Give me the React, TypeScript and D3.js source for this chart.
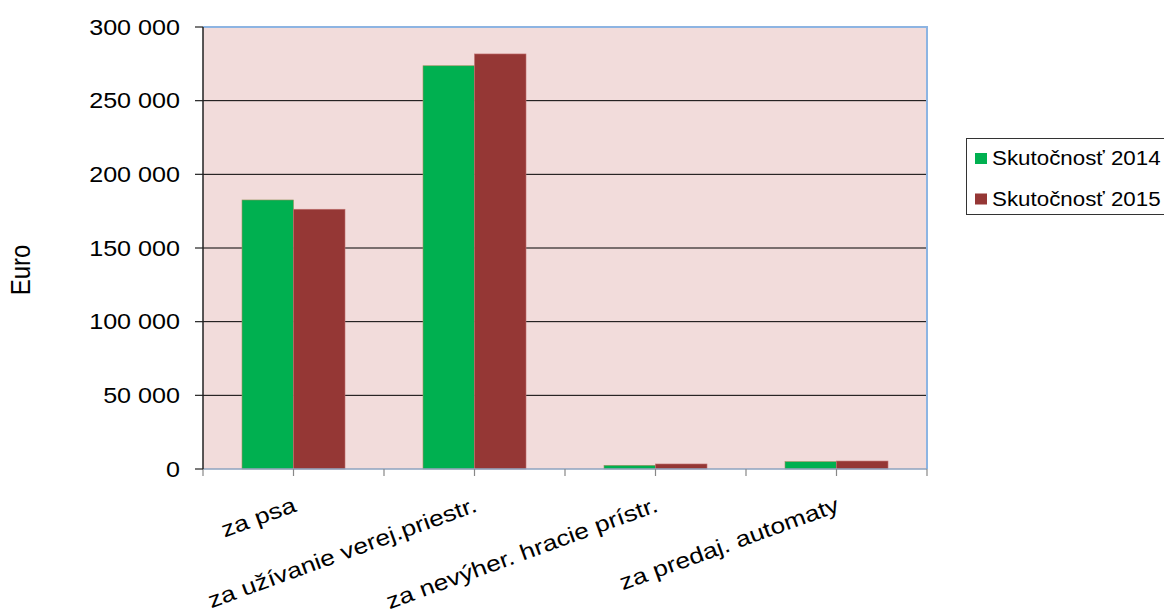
import React, { useEffect, useRef } from "react";
import * as d3 from "d3";

const categories = ["za psa", "za užívanie verej.priestr.", "za nevýher. hracie prístr.", "za predaj. automaty"];
const series2014 = [182600, 273700, 2500, 5000];
const series2015 = [176300, 281700, 3400, 5400];
const seriesNames = ["Skutočnosť 2014", "Skutočnosť 2015"];
const seriesColors = ["#00B050", "#953735"];
const yTicks = [0, 50000, 100000, 150000, 200000, 250000, 300000];

const W = 1164, H = 614;
const M = { left: 203, top: 27, right: 927, bottom: 469 };
const FONT = "'Liberation Sans', Arial, sans-serif";
const SX = 1.17;

export default function App() {
  const ref = useRef<SVGSVGElement>(null);
  useEffect(() => {
    const svg = d3.select(ref.current);
    svg.selectAll("*").remove();
    const x = d3.scaleBand().domain(categories).range([M.left, M.right]).paddingInner(0).paddingOuter(0);
    const y = d3.scaleLinear().domain([0, 300000]).range([M.bottom, M.top]);
    const fmt = (v: number) => d3.format(",")(v).replace(/,/g, " ");

    svg.append("rect").attr("x", M.left).attr("y", M.top).attr("width", M.right - M.left).attr("height", M.bottom - M.top).attr("fill", "#F2DCDB");

    // gridlines
    svg.append("g").selectAll("line").data(yTicks.filter(t => t > 0 && t < 300000)).join("line")
      .attr("x1", M.left).attr("x2", M.right).attr("y1", d => y(d)).attr("y2", d => y(d))
      .attr("stroke", "#000").attr("stroke-width", 1);

    // border top and right
    svg.append("path").attr("d", `M${M.left},${M.top}H${M.right}V${M.bottom}`).attr("fill", "none").attr("stroke", "#8DB4E2").attr("stroke-width", 2);

    // bars
    const bw = 51.5;
    const groups = [series2014, series2015];
    groups.forEach((ser, si) => {
      svg.append("g").selectAll("rect").data(ser).join("rect")
        .attr("x", (d, i) => x(categories[i])! + x.bandwidth() / 2 - bw + si * bw)
        .attr("y", d => y(d))
        .attr("width", bw)
        .attr("height", d => y(0) - y(d))
        .attr("fill", seriesColors[si])
        .attr("stroke", si === 0 ? "#A09060" : "#C07070")
        .attr("stroke-width", 0.6);
    });

    // x axis
    svg.append("line").attr("x1", M.left).attr("x2", M.right).attr("y1", M.bottom).attr("y2", M.bottom).attr("stroke", "#8EA3BF").attr("stroke-width", 1.5);
    const xt: number[] = [];
    for (let i = 0; i <= categories.length * 2; i++) xt.push(M.left + (i * x.bandwidth()) / 2);
    svg.append("g").selectAll("line").data(xt).join("line")
      .attr("x1", d => d).attr("x2", d => d).attr("y1", M.bottom).attr("y2", M.bottom + 7)
      .attr("stroke", "#888").attr("stroke-width", 1.2);

    // y axis
    svg.append("line").attr("x1", M.left).attr("x2", M.left).attr("y1", M.top).attr("y2", M.bottom).attr("stroke", "#222").attr("stroke-width", 1.5);
    svg.append("g").selectAll("line").data(yTicks).join("line")
      .attr("x1", M.left - 8).attr("x2", M.left).attr("y1", d => y(d)).attr("y2", d => y(d))
      .attr("stroke", "#222").attr("stroke-width", 1.2);
    svg.append("g").selectAll("text").data(yTicks).join("text")
      .attr("transform", d => `translate(180,${y(d)}) scale(${SX},1)`)
      .attr("dy", "0.36em").attr("text-anchor", "end")
      .attr("font-family", FONT).attr("font-size", 21.5).attr("fill", "#000").text(d => fmt(d));

    // x labels
    svg.append("g").selectAll("text").data(categories).join("text")
      .attr("transform", d => `translate(${x(d)! + x.bandwidth() / 2 + 4},${M.bottom + 42}) rotate(-20) scale(1.2,1)`)
      .attr("text-anchor", "end").attr("font-family", FONT).attr("font-size", 22).attr("fill", "#000")
      .text(d => d);

    // y title
    svg.append("text").attr("transform", `translate(30,270) scale(${SX},1) rotate(-90)`)
      .attr("text-anchor", "middle").attr("font-family", FONT).attr("font-size", 24).text("Euro");

    // legend
    const lg = svg.append("g");
    lg.append("rect").attr("x", 966.5).attr("y", 138.5).attr("width", 205).attr("height", 76).attr("fill", "#fff").attr("stroke", "#333").attr("stroke-width", 1);
    seriesNames.forEach((n, i) => {
      const yy = 158 + i * 40.5;
      lg.append("rect").attr("x", 975).attr("y", yy - 5).attr("width", 12).attr("height", 11).attr("fill", seriesColors[i]);
      lg.append("text").attr("transform", `translate(992,${yy}) scale(1.09,1)`).attr("dy", "0.36em")
        .attr("font-family", FONT).attr("font-size", 20.5).text(n);
    });
  }, []);
  return (
    <svg ref={ref} width={W} height={H} style={{ position: "absolute", left: 0, top: 0, background: "#fff" }} />
  );
}
